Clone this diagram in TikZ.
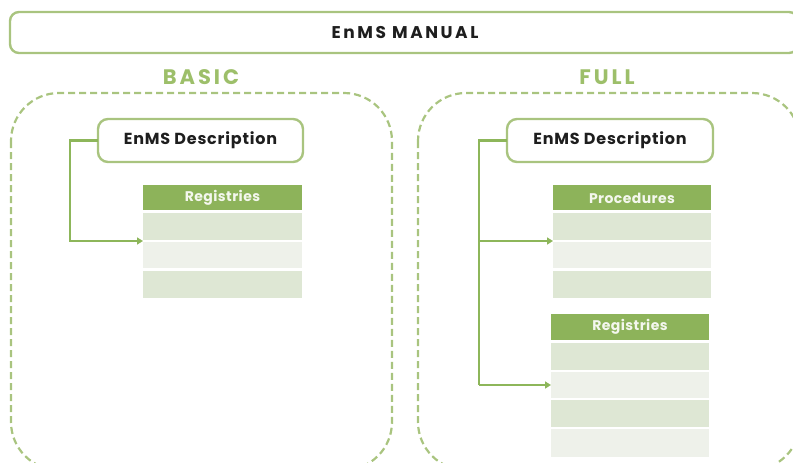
\documentclass[tikz,border=0pt]{standalone}
\usepackage{fontspec}
\setmainfont{Poppins}
\usetikzlibrary{arrows.meta}
\definecolor{frameG}{HTML}{A9C47F}
\definecolor{lineG}{HTML}{8DB65A}
\definecolor{headG}{HTML}{8DB35A}
\definecolor{titleG}{HTML}{9DBF6A}
\definecolor{rowA}{HTML}{DEE7D4}
\definecolor{rowB}{HTML}{EEF1EA}
\definecolor{txt}{HTML}{1E1E1E}
\tikzset{
  frame/.style={draw=frameG, line width=2.4pt, rounded corners=9pt},
  dashframe/.style={draw=frameG, line width=2.2pt, dash pattern=on 7pt off 4pt, rounded corners=48pt},
  descbox/.style={draw=frameG, line width=2.4pt, rounded corners=10pt, fill=white},
  header/.style={fill=headG},
  headtext/.style={text=white!90!headG, font=\bfseries\fontsize{14}{14}\selectfont\addfontfeatures{LetterSpace=3}},
  desctext/.style={text=txt, font=\bfseries\fontsize{16}{16}\selectfont\addfontfeatures{LetterSpace=5}},
  rowa/.style={fill=rowA},
  rowb/.style={fill=rowB},
  link/.style={draw=lineG, line width=2.4pt, -{Triangle[length=6pt,width=7pt]}},
  section/.style={text=titleG, font=\bfseries\fontsize{21}{21}\selectfont\addfontfeatures{LetterSpace=14}},
}
\begin{document}
\begin{tikzpicture}[x=1pt,y=-1pt]
\useasboundingbox (0,0) rectangle (793,463);

% Manual banner
\draw[frame] (10,12) rectangle (798,53);
\node[text=txt, font=\bfseries\fontsize{17}{17}\selectfont\addfontfeatures{LetterSpace=15}] (title) at (405,33) {EnMS MANUAL};

% Section headings
\node[section] (basic) at (201,77) {BASIC};
\node[section] (full) at (607,77) {FULL};

% Dashed frames
\draw[dashframe] (11,93) rectangle (392,470);
\draw[dashframe] (418,93) rectangle (800,470);

% BASIC column
\path[descbox] (98,119) rectangle (303,162);
\node[desctext] (descL) at (200.5,140.5) {EnMS Description};
\coordinate (descLw) at (98,140.5);

\path[header] (143,185) rectangle (302,210);
\node[headtext] (regL) at (222.5,198) {Registries};
\path[rowa] (143,213) rectangle (302,240);
\path[rowb] (143,242) rectangle (302,268);
\path[rowa] (143,271) rectangle (302,298);
\coordinate (regLin) at (143,241);
\coordinate (bendL) at (70,140.5);

\draw[link] (descLw) -- (bendL) |- (regLin);

% FULL column
\path[descbox] (507,119) rectangle (713,162);
\node[desctext] (descR) at (610,140.5) {EnMS Description};
\coordinate (descRw) at (507,140.5);

\path[header] (553,185) rectangle (711,210);
\node[headtext] (proc) at (632,198) {Procedures};
\path[rowa] (553,213) rectangle (711,240);
\path[rowb] (553,242) rectangle (711,268);
\path[rowa] (553,271) rectangle (711,298);
\coordinate (procIn) at (553,241);

\path[header] (551,314) rectangle (709,340);
\node[headtext] (regR) at (630,327) {Registries};
\path[rowa] (551,343) rectangle (709,370);
\path[rowb] (551,372) rectangle (709,398);
\path[rowa] (551,400) rectangle (709,427);
\path[rowb] (551,429) rectangle (709,457);
\coordinate (regRin) at (551,385);
\coordinate (bendR) at (479,140.5);

\draw[draw=lineG, line width=2.4pt] (descRw) -- (bendR) -- (bendR |- regRin);
\draw[link] (bendR |- procIn) -- (procIn);
\draw[link] (bendR |- regRin) -- (regRin);
\end{tikzpicture}
\end{document}
